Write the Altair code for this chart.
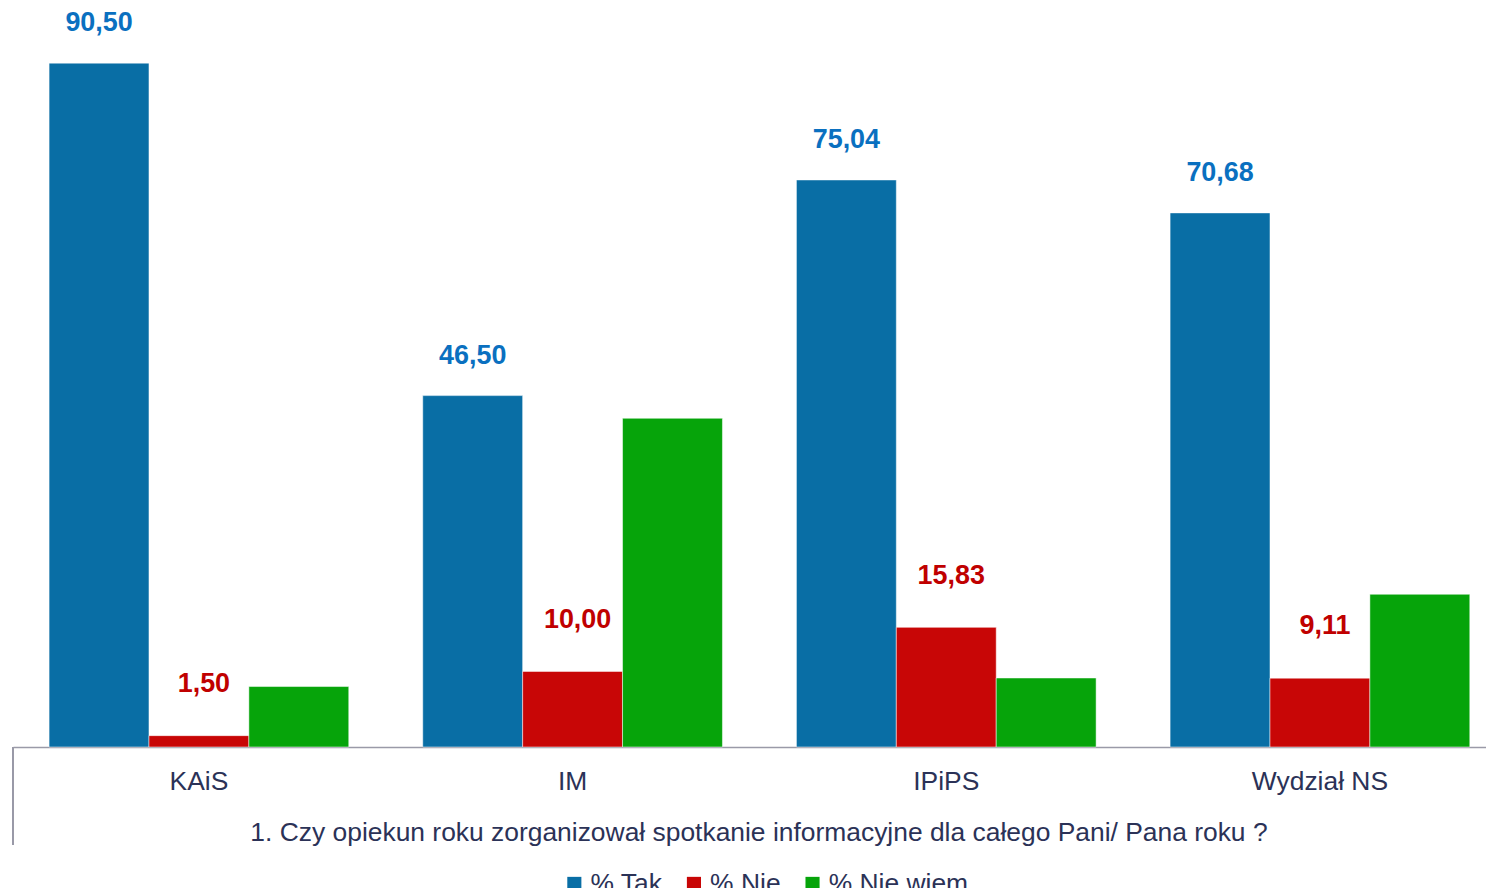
import altair as alt
import pandas as pd

categories = ["KAiS", "IM", "IPiPS", "Wydział NS"]
series = ["% Tak", "% Nie", "% Nie wiem"]
tak = [90.50, 46.50, 75.04, 70.68]
nie = [1.50, 10.00, 15.83, 9.11]
nie_wiem = [8.00, 43.50, 9.13, 20.21]

rows = []
for i, c in enumerate(categories):
    for s, vals in zip(series, [tak, nie, nie_wiem]):
        v = vals[i]
        rows.append({"cat": c, "series": s, "value": v,
                     "label": f"{v:.2f}".replace(".", ",")})
df = pd.DataFrame(rows)

FONT = "Liberation Sans"
TXT = "#2b3257"

x_scale = alt.Scale(paddingInner=0.198, paddingOuter=0.07, align=0.69)
x_enc = alt.X("cat:N", sort=categories, scale=x_scale,
              axis=alt.Axis(title="1. Czy opiekun roku zorganizował spotkanie informacyjne dla całego Pani/ Pana roku ?",
                            labelAngle=0, labelFontSize=26.5, labelFont=FONT, labelColor=TXT,
                            labelPadding=22, ticks=False, domainColor="#9a9aa8", domainWidth=1.5,
                            titleFontSize=26.5, titleFont=FONT, titleColor=TXT, titleFontWeight="normal",
                            titlePadding=24, titleX=748, titleAlign="center", titleAnchor="start"))
xo = alt.XOffset("series:N", sort=series)
y_enc = alt.Y("value:Q", scale=alt.Scale(domain=[0, 97.6], nice=False, zero=True), axis=None)

bars = alt.Chart(df).mark_bar(stroke="white", strokeWidth=0.5).encode(
    x=x_enc, xOffset=xo, y=y_enc,
    color=alt.Color("series:N", sort=series,
                    scale=alt.Scale(domain=series, range=["#096ea5", "#c80606", "#06a40a"]),
                    legend=alt.Legend(title=None, orient="none", direction="horizontal",
                                      legendX=550, legendY=864, labelFontSize=26.5, labelFont=FONT,
                                      labelColor=TXT, symbolType="square", symbolSize=200,
                                      symbolStrokeWidth=0, columnPadding=18, labelOffset=3))
)

txt_tak = alt.Chart(df).transform_filter(alt.datum.series == "% Tak").mark_text(
    font=FONT, fontSize=27, fontWeight="bold", color="#0a70c0", dy=-40, baseline="middle"
).encode(x=alt.X("cat:N", sort=categories, scale=x_scale), xOffset=xo, y=y_enc, text="label:N")

txt_nie = alt.Chart(df).transform_filter(alt.datum.series == "% Nie").mark_text(
    font=FONT, fontSize=27, fontWeight="bold", color="#c00000", dy=-52, dx=5, baseline="middle"
).encode(x=alt.X("cat:N", sort=categories, scale=x_scale), xOffset=xo, y=y_enc, text="label:N")

left_rule = alt.Chart(df).mark_rule(color="#9a9aa8", strokeWidth=1.5).encode(
    x=alt.value(0), y=alt.value(740), y2=alt.value(838))

chart = alt.layer(bars, txt_tak, txt_nie, left_rule).properties(
    width=1478, height=740,
    autosize=alt.AutoSizeParams(type="none"),
    padding={"left": 5, "top": 0, "right": 0, "bottom": 140},
).configure(background="white").configure_view(stroke=None, strokeWidth=0)

chart.save("out.html", embed_options={"renderer": "svg", "actions": False})
